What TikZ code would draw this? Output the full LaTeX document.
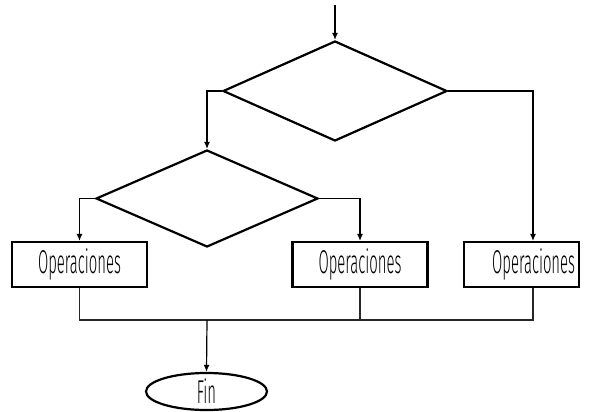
\documentclass[tikz,border=0pt]{standalone}
\usepackage{fontspec}
\setmainfont{Fira Sans Light}[FakeStretch=0.45]
\usetikzlibrary{shapes.geometric,arrows.meta}
\begin{document}
\begin{tikzpicture}[x=1pt,y=-1pt,
  shapeline/.style={draw=black,line width=2.2pt},
  decision/.style={shapeline,diamond,inner sep=0pt},
  opbox/.style={shapeline,rectangle,minimum height=45pt,inner sep=0pt,
    font=\fontsize{33}{33}\selectfont},
  terminal/.style={shapeline,ellipse,inner sep=0pt,minimum width=121pt,
    minimum height=37pt,font=\fontsize{33}{33}\selectfont},
  flow/.style={line width=1.2pt,-{Latex[length=7pt,width=6pt]}},
  mergeline/.style={line width=1.3pt,draw=black!85}]
\useasboundingbox (0,0) rectangle (592,412);

% decisions
\coordinate (start) at (335,5);
\node[decision,minimum width=224pt,minimum height=100pt] (d1) at (335,91) {};
\node[decision,minimum width=222pt,minimum height=97pt] (d2) at (207,198.5) {};

% operation boxes
\node[opbox,minimum width=135pt] (b1) at (79.5,264.5) {Operaciones};
\node[opbox,minimum width=135pt] (b2) at (360,264.5) {Operaciones};
\node[opbox,minimum width=115pt,text width=107pt,align=right,inner xsep=4pt] (b3) at (521.5,264.5) {Operaciones};

% end
\coordinate (m) at (207,320);
\node[terminal] (fin) at (206.5,391.5) {Fin};

% connectors
\draw[flow] (start) -- (d1.north);
\draw[flow] (d1.west) -| (d2.north);
\draw[flow] (d1.east) -| ([xshift=11.5pt]b3.north);
\draw[flow] (d2.west) -| (b1.north);
\draw[flow] (d2.east) -| (b2.north);

\draw[mergeline] (b1.south) |- (m);
\draw[mergeline] (b2.south) |- (m);
\draw[mergeline] ([xshift=11.5pt]b3.south) |- (m);
\draw[flow] (m) -- (fin.north);
\end{tikzpicture}
\end{document}
